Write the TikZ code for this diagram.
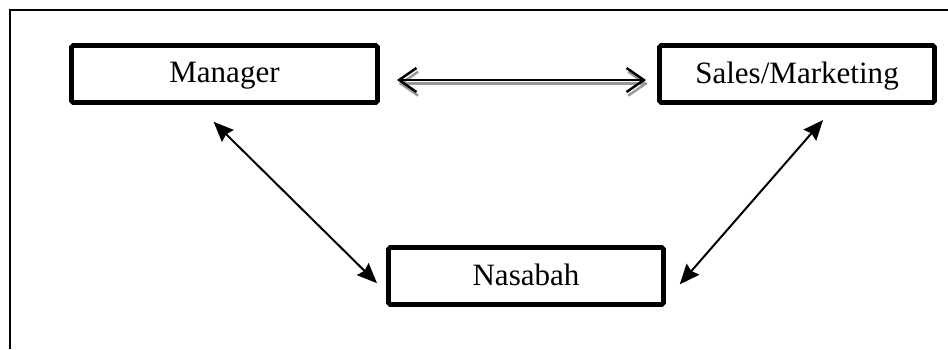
\documentclass[tikz,border=0pt]{standalone}
\usepackage{fontspec}
\setmainfont{Liberation Serif}
\usepackage{xcolor}
\usepackage{tikz}
\usetikzlibrary{calc}
\usetikzlibrary{arrows.meta}
\tikzstyle{rolebox}=[black, draw=black, line width=4.2pt, shape=rectangle, rounded corners=1.5pt, fill=white, minimum height=1.71cm, inner sep=3pt, text depth=0.08cm, font=\fontsize{26.5}{30}\selectfont]
\tikzstyle{linkarrow}=[<->, >={Stealth[length=0.6cm, width=0.5cm, inset=0.07cm]}, line width=1.7pt, color=black]
\tikzstyle{pairarrow}=[{Straight Barb[length=0.52cm, width=0.72cm]}-{Straight Barb[length=0.52cm, width=0.72cm]}, line width=2.1pt]

\begin{document}
\begin{tikzpicture}
\useasboundingbox (0,0) rectangle (28.44,10.47);
% outer frame, only top and left edges fall inside
\draw[line width=1.2pt] (0.3,0) |- (28.44,10.17);

\node [rolebox, minimum width=9.18cm] (mgr) at (6.735,8.25) {Manager};
\node [rolebox, minimum width=8.25cm] (sales) at (23.91,8.25) {Sales/Marketing};
\node [rolebox, minimum width=8.25cm] (nas) at (15.78,2.19) {Nasabah};

% double arrow with a grey drop shadow
\draw[pairarrow, color=black!40, transform canvas={xshift=0.05cm, yshift=-0.11cm}, shorten <=0.51cm, shorten >=0.33cm] ([yshift=-0.18cm]mgr.east) -- ([yshift=-0.18cm]sales.west);
\draw[pairarrow, color=black, shorten <=0.51cm, shorten >=0.33cm] ([yshift=-0.18cm]mgr.east) -- ([yshift=-0.18cm]sales.west);

\draw[linkarrow, shorten <=0.72cm, shorten >=0.38cm] ($(mgr.south west)!0.41!(mgr.south east)$) -- ($(nas.north west)!0.76!(nas.south west)$);
\draw[linkarrow, shorten <=0.6cm, shorten >=0.63cm] ($(sales.south west)!0.64!(sales.south east)$) -- ($(nas.north east)!0.89!(nas.south east)$);
\end{tikzpicture}
\end{document}
